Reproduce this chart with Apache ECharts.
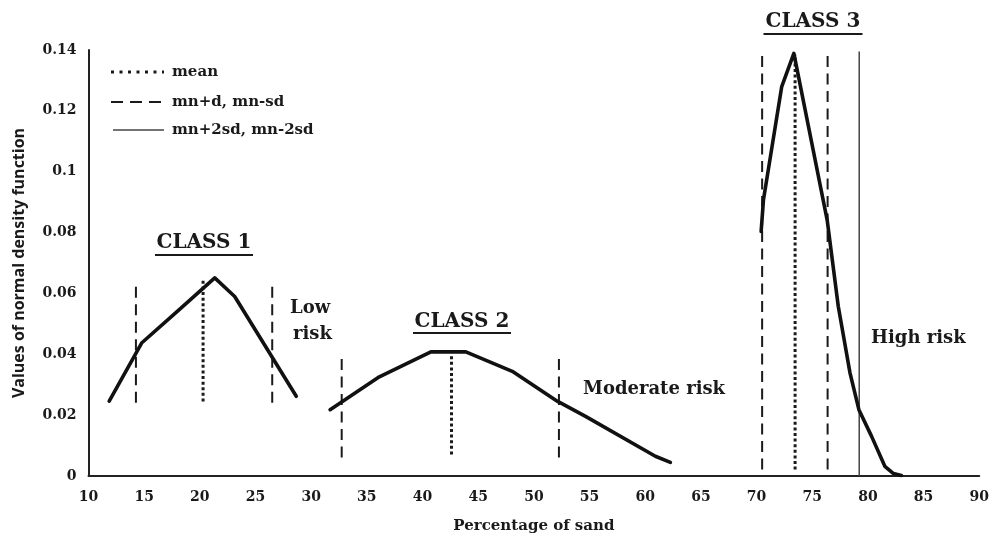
<!DOCTYPE html>
<html><head><meta charset="utf-8">
<script src="https://cdn.jsdelivr.net/npm/echarts@6/dist/echarts.min.js"></script>
<style>html,body{margin:0;padding:0;background:#fff}#c{width:992px;height:539px}</style>
</head><body><div id="c"></div>
<script>
// Normal density curves: [percentage of sand, density]
const class1Curve = [[11.86,0.0246],[14.77,0.0437],[18.0,0.0542],[21.34,0.0651],[23.13,0.059],[28.66,0.0262]];
const class2Curve = [[31.7,0.0218],[36.12,0.0326],[40.75,0.0408],[43.89,0.0408],[48.06,0.0344],[52.1,0.0246],[54.64,0.0196],[60.91,0.0065],[62.26,0.0045]];
const class3Curve = [[70.41,0.0804],[70.62,0.0908],[72.26,0.128],[73.35,0.1389],[76.35,0.0839],[77.34,0.0557],[78.39,0.0339],[79.19,0.0218],[80.32,0.0131],[81.52,0.0032],[82.3,0.0008],[83.01,0.0002]];
// Vertical reference lines: [x, yBottom, yTop]
const meanLines = [[20.29,0.0245,0.0648],[42.6,0.0071,0.0399],[73.46,0.0021,0.1384]];
const sdLines = [[14.26,0.0241,0.064],[26.5,0.0241,0.064],[32.74,0.0061,0.0393],[52.25,0.0061,0.0393],[70.5,0.0021,0.1395],[76.38,0.0021,0.1395]];
const twoSdLines = [[79.22,0,0.1395]];
const legendNames = ['mean','mn+d, mn-sd','mn+2sd, mn-2sd'];
const xRange = [10, 90, 5];
const yRange = [0, 0.14, 0.02];

const SERIF = '"DejaVu Serif", "Liberation Serif", serif';
const INK = '#1a1a1a';

const STYLE_MEAN = {width:3, type:[3,2.6], color:INK};
const STYLE_SD = {width:2, type:[11,6.5], color:INK};
const STYLE_2SD = {width:1.5, type:'solid', color:'#444'};

const chart = echarts.init(document.getElementById('c'), null, {renderer:'canvas'});

function vSeries(list, name, ls) {
  return list.map(l => ({
    type:'line', name:name, symbol:'none', silent:true, z:2,
    data:[[l[0],l[1]],[l[0],l[2]]],
    lineStyle:Object.assign({cap:'butt'}, ls)
  }));
}
function curve(data, name) {
  return {type:'line', name:name, symbol:'none', silent:true, z:5, data:data,
    lineStyle:{color:'#111', width:3.6, join:'round', cap:'round'}};
}

const series = [].concat(
  vSeries(meanLines, legendNames[0], STYLE_MEAN),
  vSeries(sdLines, legendNames[1], STYLE_SD),
  vSeries(twoSdLines, legendNames[2], STYLE_2SD),
  [curve(class1Curve,'CLASS 1'), curve(class2Curve,'CLASS 2'), curve(class3Curve,'CLASS 3')]
);

function underlined(text, cx, cy, w, ulY, size) {
  return {type:'group', children:[
    {type:'text', x:cx, y:cy, style:{text:text, fill:INK, font:'bold '+size+'px '+SERIF, align:'center', verticalAlign:'middle'}},
    {type:'line', shape:{x1:cx-w/2, y1:ulY, x2:cx+w/2, y2:ulY}, style:{stroke:INK, lineWidth:1.8}}
  ]};
}
function label(text, x, y, size, align) {
  return {type:'text', x:x, y:y, style:{text:text, fill:INK, font:'bold '+size+'px '+SERIF, align:align||'left', verticalAlign:'middle'}};
}
function legendRow(name, ls, x1, x2, y) {
  return {type:'group', children:[
    {type:'line', shape:{x1:x1, y1:y, x2:x2, y2:y},
      style:{stroke:ls.color, lineWidth:ls.width === 1.5 ? 1.3 : ls.width,
        lineDash: ls.type === 'solid' ? null : (ls.width === 3 ? [3,5.5] : [12,7]), lineCap:'butt'}},
    {type:'text', x:172, y:y, style:{text:name, fill:INK, font:'bold 15px '+SERIF, align:'left', verticalAlign:'middle'}}
  ]};
}

chart.setOption({
  animation:false,
  backgroundColor:'#fff',
  grid:{left:88.5, right:10.5, top:50, bottom:62.5, containLabel:false},
  xAxis:{type:'value', min:xRange[0], max:xRange[1], interval:xRange[2],
    name:'Percentage of sand', nameLocation:'middle', nameGap:43,
    nameTextStyle:{fontFamily:SERIF, fontWeight:'bold', fontSize:15, color:INK},
    axisLine:{show:true, lineStyle:{color:'#222', width:2}}, axisTick:{show:false},
    splitLine:{show:false},
    axisLabel:{fontFamily:SERIF, fontWeight:'bold', fontSize:14, color:INK, margin:14}},
  yAxis:{type:'value', min:yRange[0], max:yRange[1], interval:yRange[2],
    name:'Values of normal density function', nameLocation:'middle', nameGap:61, nameRotate:90,
    nameTextStyle:{fontFamily:'"Open Sans", "Noto Sans", sans-serif', fontWeight:'bold', fontSize:16, color:INK},
    axisLine:{show:true, lineStyle:{color:'#222', width:2}}, axisTick:{show:false},
    splitLine:{show:false},
    axisLabel:{fontFamily:SERIF, fontWeight:'bold', fontSize:14, color:INK, margin:12}},
  series:series,
  graphic:[
    legendRow(legendNames[0], STYLE_MEAN, 111, 164, 72),
    legendRow(legendNames[1], STYLE_SD, 111, 166, 102),
    legendRow(legendNames[2], STYLE_2SD, 113, 164, 130),
    underlined('CLASS 1', 204, 243, 98, 255, 20),
    underlined('CLASS 2', 462, 322, 98, 333, 20),
    underlined('CLASS 3', 813, 22, 99, 34, 20),
    label('Low', 290, 308, 18),
    label('risk', 293, 334, 18),
    label('Moderate risk', 583, 389, 18),
    label('High risk', 871, 338, 18)
  ]
});
</script></body></html>
